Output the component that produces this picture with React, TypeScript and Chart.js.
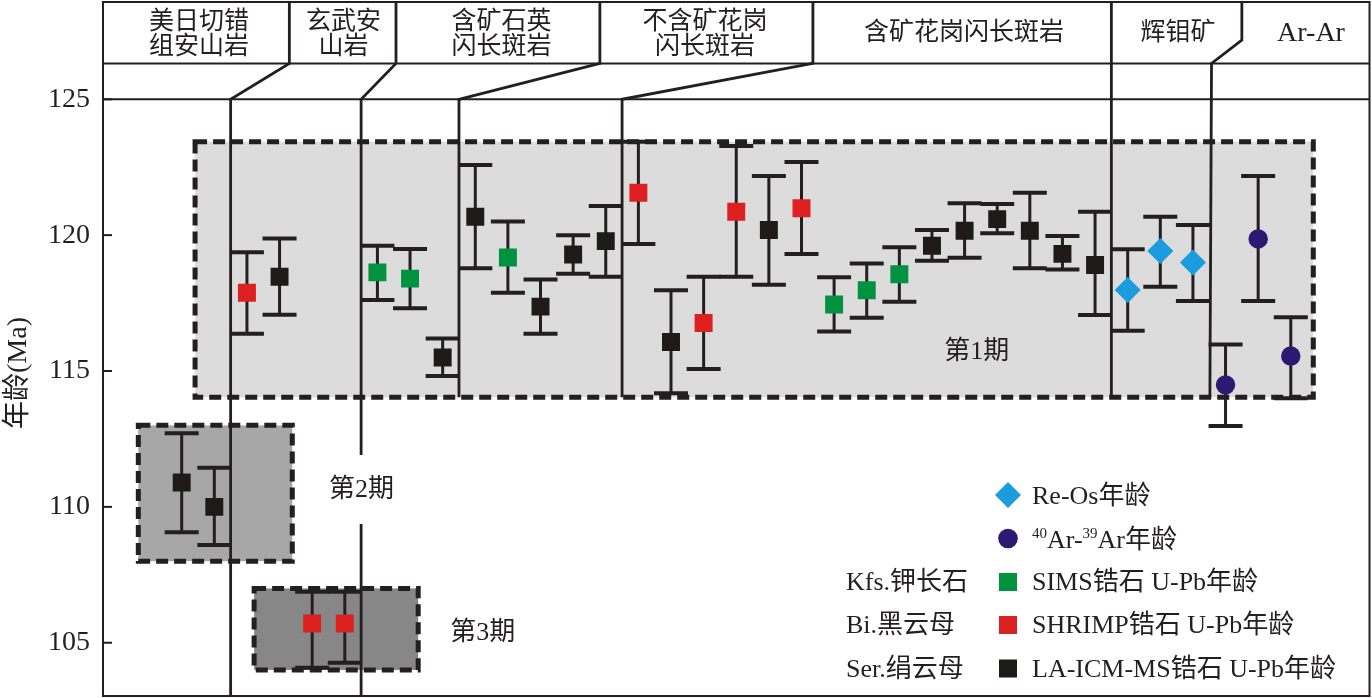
import React, { useEffect, useRef } from 'react';
import { Chart, registerables } from 'chart.js';

Chart.register(...registerables);

// ---------------- DATA ----------------
// sample slot index (position along the horizontal axis)
const slots = [0, 1, 2, 3, 4, 5, 6, 7, 8, 9, 10, 11, 12, 13, 14, 15, 16, 17, 18, 19, 20, 21, 22, 23, 24, 25, 26, 27, 28, 29, 30, 31, 32, 33, 34];
// age (Ma)
const ages = [110.9, 110.0, 117.88, 118.47, 105.71, 105.71, 118.63, 118.4, 115.5, 120.68, 119.18, 117.37, 119.29, 119.78, 121.56, 116.07, 116.77, 120.86, 120.19, 120.99, 117.45, 117.97, 118.56, 119.61, 120.16, 120.59, 120.16, 119.31, 118.9, 117.98, 119.42, 118.99, 114.49, 119.86, 115.55];
// upper end of error bar (Ma)
const ageUpper = [112.71, 111.44, 119.37, 119.88, 106.88, 106.88, 119.61, 119.49, 116.2, 122.58, 120.5, 118.37, 120.0, 121.07, 123.44, 117.97, 118.47, 123.28, 122.18, 122.69, 118.45, 118.96, 119.55, 120.19, 121.17, 121.15, 121.56, 119.97, 120.86, 119.48, 120.68, 120.37, 115.98, 122.18, 116.98];
// lower end of error bar (Ma)
const ageLower = [109.07, 108.6, 116.37, 117.07, 104.08, 104.26, 117.61, 117.31, 114.82, 118.78, 117.88, 116.37, 118.58, 118.47, 119.67, 114.18, 115.07, 118.47, 118.17, 119.31, 116.45, 116.96, 117.55, 119.06, 119.17, 120.07, 118.78, 118.74, 117.06, 116.48, 118.1, 117.58, 112.98, 117.58, 114.0];
// dating method of each sample
const methods = ['LA', 'LA', 'SHRIMP', 'LA', 'SHRIMP', 'SHRIMP', 'SIMS', 'SIMS', 'LA', 'LA', 'SIMS', 'LA', 'LA', 'LA', 'SHRIMP', 'LA', 'SHRIMP', 'SHRIMP', 'LA', 'SHRIMP', 'SIMS', 'SIMS', 'SIMS', 'LA', 'LA', 'LA', 'LA', 'LA', 'LA', 'ReOs', 'ReOs', 'ReOs', 'ArAr', 'ArAr', 'ArAr'];

// legend
const methodKeys = ['ReOs', 'ArAr', 'SIMS', 'SHRIMP', 'LA'];
const methodLabels = ['Re-Os年龄', '40Ar-39Ar年龄', 'SIMS锆石 U-Pb年龄', 'SHRIMP锆石 U-Pb年龄', 'LA-ICM-MS锆石 U-Pb年龄'];
const mineralLabels = ['', '', 'Kfs.钾长石', 'Bi.黑云母', 'Ser.绢云母'];

// rock units (header)
const unitNames = [['美日切错', '组安山岩'], ['玄武安', '山岩'], ['含矿石英', '闪长斑岩'], ['不含矿花岗', '闪长斑岩'], ['含矿花岗闪长斑岩'], ['辉钼矿'], ['Ar-Ar']];

// magmatic periods
const periodNames = ['第1期', '第2期', '第3期'];
const periodYMin = [114.03, 108.0, 104.0];
const periodYMax = [123.44, 113.0, 107.0];

const yTicks = [105, 110, 115, 120, 125];
const yTitle = '年龄(Ma)';

// ---------------- LAYOUT / STYLE ----------------
const X_MIN = -2.4126;
const X_MAX = 36.413;
const Y_MIN = 103.04;
const Y_MAX = 128.58;
const HEADER_MID = 126.32;
const HEADER_BASE = 125;

const unitTextX = [0.531, 4.959, 9.80, 16.04, 23.98, 30.54, 34.62];
const unitFontSize = [25, 25, 25, 25, 25, 25, 28];
const periodXStart = [0.41, -1.33, 2.22];
const periodXEnd = [34.69, 3.39, 7.25];
const periodFill = ['#dcdcdc', '#a7a7a8', '#878787'];
const periodLabelX = [24.37, 5.51, 9.23];
const periodLabelY = [115.71, 110.62, 105.36];

// separator polylines: [x, y] in scale units
const separators: number[][][] = [
  [[3.30, Y_MAX], [3.30, HEADER_MID], [1.5, HEADER_BASE], [1.5, Y_MIN]],
  [[6.57, Y_MAX], [6.57, HEADER_MID], [5.5, HEADER_BASE], [5.5, 111.91]],
  [[5.5, 109.37], [5.5, Y_MIN]],
  [[12.82, Y_MAX], [12.82, HEADER_MID], [8.5, HEADER_BASE], [8.5, 114.03]],
  [[19.35, Y_MAX], [19.35, HEADER_MID], [13.5, HEADER_BASE], [13.5, 114.03]],
  [[28.5, Y_MAX], [28.5, 114.03]],
  [[32.5, Y_MAX], [32.5, 127.18], [31.57, HEADER_MID], [31.52, 114.03]],
];

const INK = '#231f20';
const SERIF = '"Liberation Serif", "Noto Sans CJK SC", serif';

const methodColor: Record<string, string> = {
  LA: '#1e1a19',
  SHRIMP: '#dd2121',
  SIMS: '#00923f',
  ReOs: '#1b9cdf',
  ArAr: '#2a1a72',
};
const methodStyle: Record<string, string> = {
  LA: 'rect', SHRIMP: 'rect', SIMS: 'rect', ReOs: 'rectRot', ArAr: 'circle',
};
const methodRadius: Record<string, number> = {
  LA: 12.7, SHRIMP: 12.7, SIMS: 12.7, ReOs: 13, ArAr: 9.7,
};

function drawMarker(ctx: CanvasRenderingContext2D, key: string, cx: number, cy: number) {
  ctx.fillStyle = methodColor[key];
  ctx.beginPath();
  if (methodStyle[key] === 'rect') {
    ctx.rect(cx - 9, cy - 9, 18, 18);
  } else if (methodStyle[key] === 'rectRot') {
    ctx.moveTo(cx, cy - 13);
    ctx.lineTo(cx + 13, cy);
    ctx.lineTo(cx, cy + 13);
    ctx.lineTo(cx - 13, cy);
    ctx.closePath();
  } else {
    ctx.arc(cx, cy, 9.8, 0, Math.PI * 2);
  }
  ctx.fill();
}

const overlayPlugin = {
  id: 'overlay',
  beforeDatasetsDraw(chart: any) {
    const { ctx, chartArea: a, scales } = chart;
    const X = (v: number) => scales.x.getPixelForValue(v);
    const Y = (v: number) => scales.y.getPixelForValue(v);
    ctx.save();

    // period box fills
    periodNames.forEach((_, i) => {
      ctx.fillStyle = periodFill[i];
      ctx.fillRect(X(periodXStart[i]), Y(periodYMax[i]), X(periodXEnd[i]) - X(periodXStart[i]), Y(periodYMin[i]) - Y(periodYMax[i]));
    });

    // header horizontal lines
    ctx.strokeStyle = INK;
    ctx.lineWidth = 2;
    [HEADER_MID, HEADER_BASE].forEach((v) => {
      ctx.beginPath();
      ctx.moveTo(a.left, Y(v));
      ctx.lineTo(a.right, Y(v));
      ctx.stroke();
    });

    // separators
    ctx.lineWidth = 2.8;
    ctx.lineJoin = 'miter';
    separators.forEach((pts) => {
      ctx.beginPath();
      pts.forEach(([px, py], k) => {
        const xx = X(px);
        const yy = py >= Y_MAX ? a.top : py <= Y_MIN ? a.bottom : Y(py);
        if (k === 0) ctx.moveTo(xx, yy); else ctx.lineTo(xx, yy);
      });
      ctx.stroke();
    });

    // period box borders
    ctx.lineWidth = 5;
    ctx.setLineDash([12, 6]);
    periodNames.forEach((_, i) => {
      ctx.strokeRect(X(periodXStart[i]), Y(periodYMax[i]), X(periodXEnd[i]) - X(periodXStart[i]), Y(periodYMin[i]) - Y(periodYMax[i]));
    });
    ctx.setLineDash([]);

    // period labels
    ctx.fillStyle = INK;
    ctx.font = `26px ${SERIF}`;
    ctx.textAlign = 'center';
    ctx.textBaseline = 'middle';
    periodNames.forEach((n, i) => ctx.fillText(n, X(periodLabelX[i]), Y(periodLabelY[i])));

    // header unit names
    const headTop = a.top;
    const headMid = Y(HEADER_MID);
    unitNames.forEach((lines, i) => {
      ctx.font = `${unitFontSize[i]}px ${SERIF}`;
      const cx = X(unitTextX[i]);
      if (lines.length === 1) {
        ctx.fillText(lines[0], cx, (headTop + headMid) / 2 + 0.5);
      } else {
        ctx.fillText(lines[0], cx, headTop + 20);
        ctx.fillText(lines[1], cx, headTop + 45);
      }
    });

    // inner tick marks
    ctx.lineWidth = 2;
    yTicks.forEach((t) => {
      ctx.beginPath();
      ctx.moveTo(a.left, Y(t));
      ctx.lineTo(a.left + 9, Y(t));
      ctx.stroke();
    });

    // error bars
    ctx.strokeStyle = INK;
    slots.forEach((s, i) => {
      const cx = X(s);
      const yt = Y(ageUpper[i]);
      const yb = Y(ageLower[i]);
      ctx.lineWidth = 3;
      ctx.beginPath();
      ctx.moveTo(cx, yt);
      ctx.lineTo(cx, yb);
      ctx.stroke();
      ctx.lineWidth = 4;
      ctx.beginPath();
      ctx.moveTo(cx - 17, yt);
      ctx.lineTo(cx + 17, yt);
      ctx.moveTo(cx - 17, yb);
      ctx.lineTo(cx + 17, yb);
      ctx.stroke();
    });
    ctx.restore();
  },
  afterDatasetsDraw(chart: any) {
    const { ctx, chartArea: a } = chart;
    ctx.save();
    // plot frame
    ctx.strokeStyle = INK;
    ctx.lineWidth = 2;
    ctx.strokeRect(a.left, a.top, a.right - a.left, a.bottom - a.top);

    // y title
    ctx.fillStyle = INK;
    ctx.font = `28px ${SERIF}`;
    ctx.textAlign = 'center';
    ctx.textBaseline = 'middle';
    ctx.translate(19, 373);
    ctx.rotate(-Math.PI / 2);
    ctx.fillText(yTitle, 0, 0);
    ctx.setTransform(1, 0, 0, 1, 0, 0);

    // legend
    const markerX = 1008;
    const textX = 1032;
    const mineralX = 846;
    const rowY = [495, 538.5, 582, 625, 668.5];
    const baseY = [504, 548, 590, 633, 677];
    ctx.textAlign = 'left';
    ctx.textBaseline = 'alphabetic';
    methodKeys.forEach((k, i) => {
      drawMarker(ctx, k, markerX, rowY[i]);
      ctx.fillStyle = INK;
      const label = methodLabels[i];
      if (k === 'ArAr') {
        let x = textX;
        const m = label.match(/^(\d+)(Ar-)(\d+)(.*)$/);
        const parts = m ? [[m[1], true], [m[2], false], [m[3], true], [m[4], false]] : [[label, false]];
        parts.forEach(([txt, sup]: any) => {
          ctx.font = sup ? `15px ${SERIF}` : `26px ${SERIF}`;
          ctx.fillText(txt, x, sup ? baseY[i] - 10 : baseY[i]);
          x += ctx.measureText(txt).width;
        });
      } else {
        ctx.font = `26px ${SERIF}`;
        ctx.fillText(label, textX, baseY[i]);
      }
      if (mineralLabels[i]) {
        ctx.font = `26px ${SERIF}`;
        ctx.fillText(mineralLabels[i], mineralX, baseY[i]);
      }
    });
    ctx.restore();
  },
};

function buildDatasets() {
  return methodKeys.map((k) => {
    const data = slots
      .filter((_, i) => methods[i] === k)
      .map((s) => ({ x: s, y: ages[slots.indexOf(s)] }));
    return {
      label: k,
      data,
      showLine: false,
      pointStyle: methodStyle[k],
      pointRadius: methodRadius[k],
      pointHoverRadius: methodRadius[k],
      pointBackgroundColor: methodColor[k],
      pointBorderColor: methodColor[k],
      pointBorderWidth: 0,
    };
  });
}

export default function App() {
  const ref = useRef<HTMLCanvasElement>(null);
  useEffect(() => {
    if (!ref.current) return;
    const chart = new Chart(ref.current, {
      type: 'scatter',
      data: { datasets: buildDatasets() as any },
      options: {
        responsive: false,
        animation: false,
        events: [],
        layout: { autoPadding: false, padding: { top: 2, right: 2.5, bottom: 2, left: 0 } },
        plugins: { legend: { display: false }, tooltip: { enabled: false } },
        scales: {
          x: { type: 'linear', display: false, min: X_MIN, max: X_MAX },
          y: {
            type: 'linear',
            min: Y_MIN,
            max: Y_MAX,
            afterFit: (s: any) => {
              s.width = 103;
              s.paddingTop = 0;
              s.paddingBottom = 0;
            },
            afterBuildTicks: (s: any) => {
              s.ticks = yTicks.map((v) => ({ value: v }));
            },
            border: { display: false },
            grid: { display: false, drawTicks: false },
            ticks: {
              padding: 13,
              color: INK,
              font: { family: SERIF, size: 28 },
              callback: (v: any) => String(v),
            },
          },
        },
      },
      plugins: [overlayPlugin],
    } as any);
    return () => chart.destroy();
  }, []);
  return (
    <div style={{ position: 'fixed', left: 0, top: 0, width: 1372, height: 698, background: '#fff' }}>
      <canvas ref={ref} width={1372} height={698} style={{ display: 'block' }} />
    </div>
  );
}
